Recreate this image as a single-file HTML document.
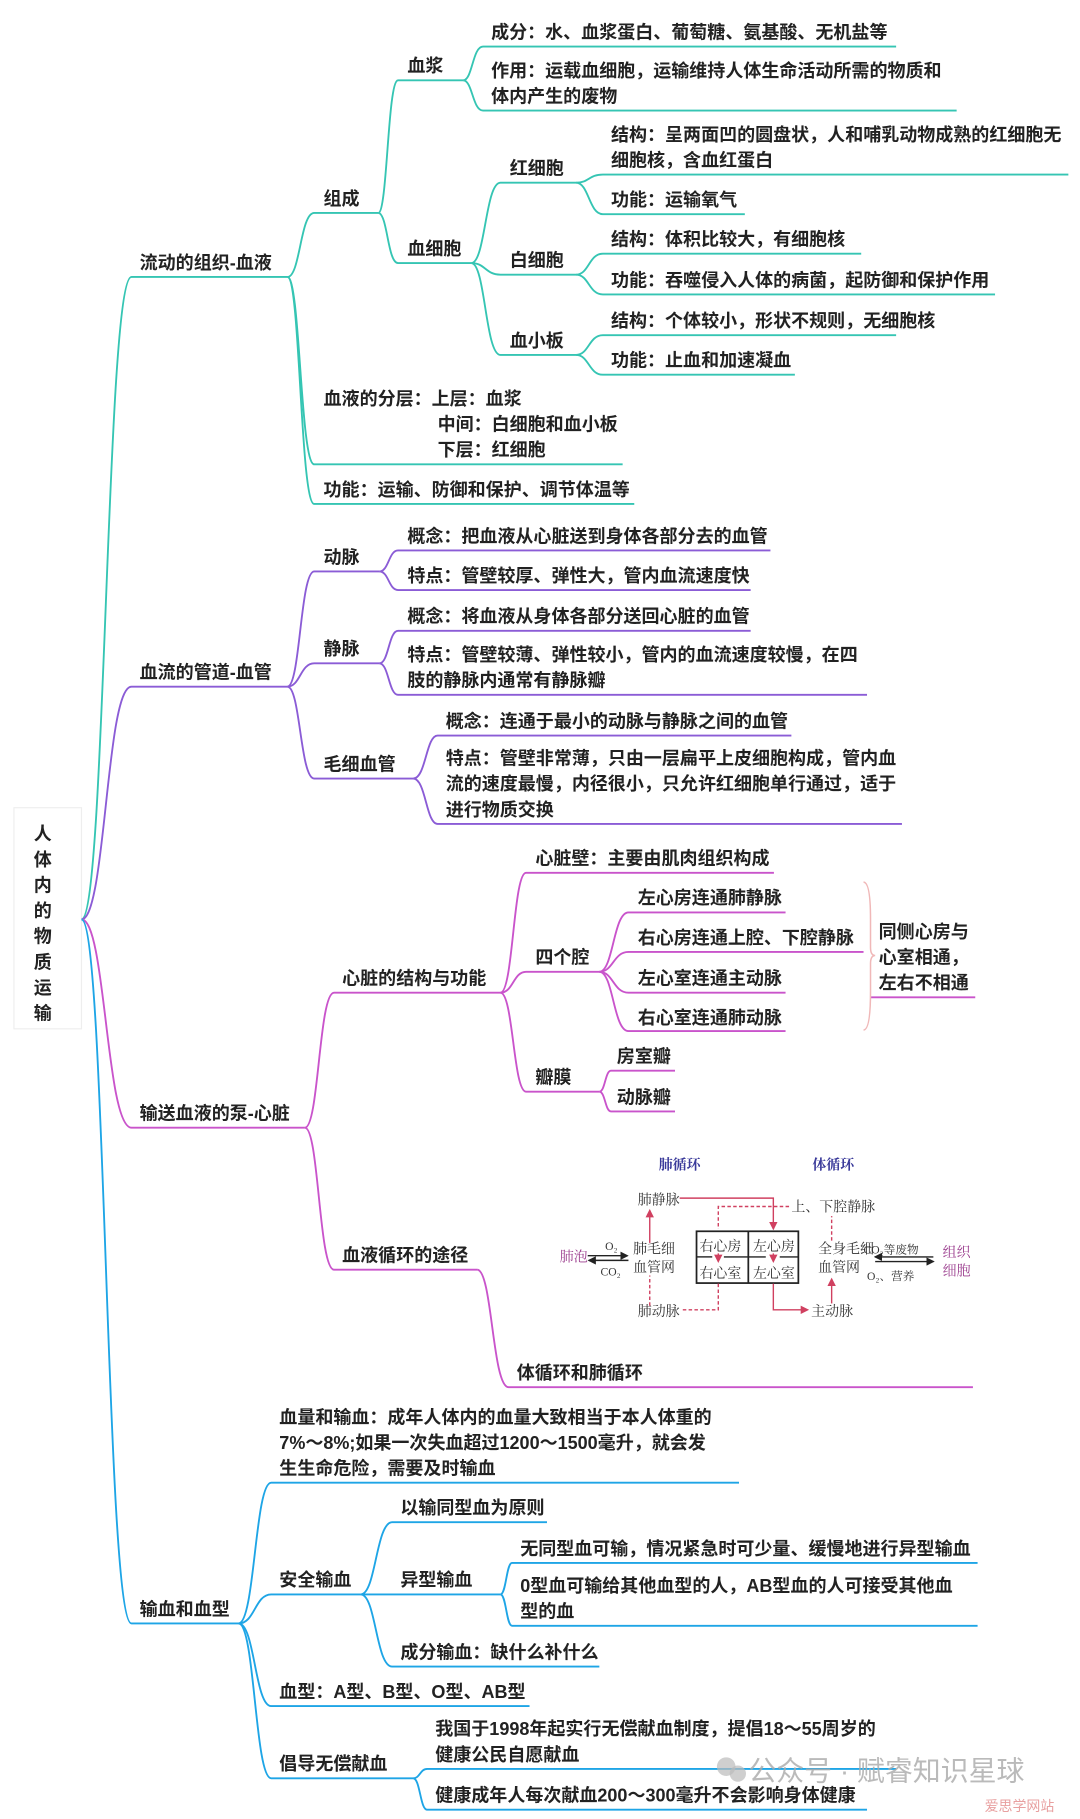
<!DOCTYPE html>
<html><head><meta charset="utf-8"><style>
html,body{margin:0;padding:0;background:#fff;}
svg{display:block;}
text{font-family:"Liberation Sans","Noto Sans CJK SC",sans-serif;font-weight:bold;font-size:15.5px;fill:#222;}
.d{font-family:"Liberation Serif","Noto Serif CJK SC",serif;font-weight:normal;font-size:12px;fill:#333;}
.t{fill:none;stroke:#35c5b3;stroke-width:1.6;}
.p{fill:none;stroke:#8b5cd6;stroke-width:1.6;}
.m{fill:none;stroke:#c954cb;stroke-width:1.6;}
.b{fill:none;stroke:#1ea5e6;stroke-width:1.6;}
</style></head><body>
<svg width="1080" height="1819" viewBox="0 0 928 1563" preserveAspectRatio="none" xmlns="http://www.w3.org/2000/svg">
<defs>
<marker id="ar" markerWidth="6" markerHeight="6" refX="5" refY="3" orient="auto"><path d="M0,0 L6,3 L0,6 z" fill="#d04060"/></marker>
<marker id="ak" markerWidth="6" markerHeight="6" refX="5" refY="3" orient="auto"><path d="M0,0 L6,3 L0,6 z" fill="#222"/></marker>
</defs>
<!-- root -->
<rect x="12" y="694" width="58" height="190" fill="#fff" stroke="#eee" stroke-width="1"/>
<g style="font-size:17px">
<text x="29" y="722">人</text><text x="29" y="744">体</text><text x="29" y="766">内</text><text x="29" y="788">的</text><text x="29" y="810">物</text><text x="29" y="832">质</text><text x="29" y="854">运</text><text x="29" y="876">输</text>
</g>

<!-- Branch 1 teal -->
<g class="t">
<path d="M70 790 C91 790 91 238 113 238 L247 238"/>
<path d="M247 238 C258 238 258 183 270 183 L325 183"/>
<path d="M325 183 C333 183 333 69 342 69 L398 69"/>
<path d="M398 69 C406 69 406 40 415 40 L770 40"/>
<path d="M398 69 C406 69 406 95 415 95 L822 95"/>
<path d="M325 183 C333 183 333 226 342 226 L405 226"/>
<path d="M405 226 C417 226 417 157 430 157 L495 157"/>
<path d="M495 157 C506 157 506 150 518 150 L918 150"/>
<path d="M495 157 C506 157 506 184 518 184 L640 184"/>
<path d="M405 226 C417 226 417 236 430 236 L495 236"/>
<path d="M495 236 C506 236 506 218 518 218 L740 218"/>
<path d="M495 236 C506 236 506 253 518 253 L855 253"/>
<path d="M405 226 C417 226 417 305 430 305 L495 305"/>
<path d="M495 305 C506 305 506 288 518 288 L770 288"/>
<path d="M495 305 C506 305 506 322 518 322 L683 322"/>
<path d="M247 238 C258 238 258 399 270 399 L535 399"/>
<path d="M247 238 C258 238 258 433 270 433 L545 433"/>
</g>
<text x="120" y="231">流动的组织-血液</text>
<text x="278" y="176">组成</text>
<text x="350" y="62">血浆</text>
<text x="422" y="33">成分：水、血浆蛋白、葡萄糖、氨基酸、无机盐等</text>
<text x="422" y="66">作用：运载血细胞，运输维持人体生命活动所需的物质和</text>
<text x="422" y="88">体内产生的废物</text>
<text x="350" y="219">血细胞</text>
<text x="438" y="150">红细胞</text>
<text x="525" y="121">结构：呈两面凹的圆盘状，人和哺乳动物成熟的红细胞无</text>
<text x="525" y="143">细胞核，含血红蛋白</text>
<text x="525" y="177">功能：运输氧气</text>
<text x="438" y="229">白细胞</text>
<text x="525" y="211">结构：体积比较大，有细胞核</text>
<text x="525" y="246">功能：吞噬侵入人体的病菌，起防御和保护作用</text>
<text x="438" y="298">血小板</text>
<text x="525" y="281">结构：个体较小，形状不规则，无细胞核</text>
<text x="525" y="315">功能：止血和加速凝血</text>
<text x="278" y="348">血液的分层：上层：血浆</text>
<text x="376" y="370">中间：白细胞和血小板</text>
<text x="376" y="392">下层：红细胞</text>
<text x="278" y="426">功能：运输、防御和保护、调节体温等</text>

<!-- Branch 2 purple -->
<g class="p">
<path d="M70 790 C91 790 91 590 113 590 L247 590"/>
<path d="M247 590 C258 590 258 491 270 491 L326 491"/>
<path d="M326 491 C334 491 334 473 342 473 L662 473"/>
<path d="M326 491 C334 491 334 507 342 507 L645 507"/>
<path d="M247 590 C258 590 258 570 270 570 L326 570"/>
<path d="M326 570 C334 570 334 542 342 542 L645 542"/>
<path d="M326 570 C334 570 334 597 342 597 L745 597"/>
<path d="M247 590 C258 590 258 669 270 669 L355 669"/>
<path d="M355 669 C366 669 366 632 376 632 L680 632"/>
<path d="M355 669 C366 669 366 708 376 708 L775 708"/>
</g>
<text x="120" y="583">血流的管道-血管</text>
<text x="278" y="484">动脉</text>
<text x="350" y="466">概念：把血液从心脏送到身体各部分去的血管</text>
<text x="350" y="500">特点：管壁较厚、弹性大，管内血流速度快</text>
<text x="278" y="563">静脉</text>
<text x="350" y="535">概念：将血液从身体各部分送回心脏的血管</text>
<text x="350" y="568">特点：管壁较薄、弹性较小，管内的血流速度较慢，在四</text>
<text x="350" y="590">肢的静脉内通常有静脉瓣</text>
<text x="278" y="662">毛细血管</text>
<text x="383" y="625">概念：连通于最小的动脉与静脉之间的血管</text>
<text x="383" y="657">特点：管壁非常薄，只由一层扁平上皮细胞构成，管内血</text>
<text x="383" y="679">流的速度最慢，内径很小，只允许红细胞单行通过，适于</text>
<text x="383" y="701">进行物质交换</text>

<!-- Branch 3 magenta -->
<g class="m">
<path d="M70 790 C91 790 91 969 113 969 L262 969"/>
<path d="M262 969 C274 969 274 853 287 853 L430 853"/>
<path d="M430 853 C441 853 441 750 452 750 L665 750"/>
<path d="M430 853 C441 853 441 835 452 835 L515 835"/>
<path d="M515 835 C527 835 527 784 540 784 L675 784"/>
<path d="M515 835 C527 835 527 818 540 818 L742 818"/>
<path d="M515 835 C527 835 527 853 540 853 L675 853"/>
<path d="M515 835 C527 835 527 886 540 886 L675 886"/>
<path d="M430 853 C441 853 441 938 452 938 L515 938"/>
<path d="M515 938 C520 938 520 920 525 920 L580 920"/>
<path d="M515 938 C520 938 520 955 525 955 L580 955"/>
<path d="M262 969 C274 969 274 1091 287 1091 L410 1091"/>
<path d="M410 1091 C423 1091 423 1192 437 1192 L836 1192"/>
<path d="M748 857 L838 857"/>
</g>
<path d="M742 758 Q748 758 748 790 L748 814 Q748 821 752 821 Q748 821 748 828 L748 852 Q748 885 742 885" fill="none" stroke="#f0b8b8" stroke-width="1.3"/>
<text x="120" y="962">输送血液的泵-心脏</text>
<text x="294" y="846">心脏的结构与功能</text>
<text x="460" y="743">心脏壁：主要由肌肉组织构成</text>
<text x="460" y="828">四个腔</text>
<text x="548" y="777">左心房连通肺静脉</text>
<text x="548" y="811">右心房连通上腔、下腔静脉</text>
<text x="548" y="846">左心室连通主动脉</text>
<text x="548" y="880">右心室连通肺动脉</text>
<text x="755" y="806">同侧心房与</text>
<text x="755" y="828">心室相通，</text>
<text x="755" y="850">左右不相通</text>
<text x="460" y="931">瓣膜</text>
<text x="530" y="913">房室瓣</text>
<text x="530" y="948">动脉瓣</text>
<text x="294" y="1084">血液循环的途径</text>
<text x="444" y="1185">体循环和肺循环</text>

<!-- circulation diagram -->
<g>
<text class="d" x="566" y="1005" style="fill:#3a3a9a;font-weight:bold">肺循环</text>
<text class="d" x="698" y="1005" style="fill:#3a3a9a;font-weight:bold">体循环</text>
<text class="d" x="548" y="1035">肺静脉</text>
<text class="d" x="680" y="1041">上、下腔静脉</text>
<text class="d" x="544" y="1077">肺毛细</text>
<text class="d" x="544" y="1093">血管网</text>
<text class="d" x="481" y="1084" style="fill:#9b3d8e">肺泡</text>
<text class="d" x="520" y="1074" style="font-size:10px">O₂</text>
<text class="d" x="516" y="1096" style="font-size:10px">CO₂</text>
<line x1="505" y1="1079" x2="539" y2="1079" stroke="#222" stroke-width="1.2" marker-end="url(#ak)"/>
<line x1="540" y1="1083" x2="506" y2="1083" stroke="#222" stroke-width="1.2" marker-end="url(#ak)"/>
<rect x="598.5" y="1058" width="87.5" height="44.5" fill="none" stroke="#222" stroke-width="1.5"/>
<line x1="643" y1="1058" x2="643" y2="1102.5" stroke="#222" stroke-width="1.5"/>
<line x1="598.5" y1="1080" x2="612" y2="1080" stroke="#222" stroke-width="1.2"/>
<line x1="622" y1="1080" x2="658" y2="1080" stroke="#222" stroke-width="1.2"/>
<line x1="670" y1="1080" x2="686" y2="1080" stroke="#222" stroke-width="1.2"/>
<text class="d" x="601" y="1075">右心房</text>
<text class="d" x="647" y="1075">左心房</text>
<text class="d" x="601" y="1098">右心室</text>
<text class="d" x="647" y="1098">左心室</text>
<text class="d" x="703" y="1077">全身毛细</text>
<text class="d" x="703" y="1093">血管网</text>
<text class="d" x="742" y="1077" style="font-size:10px">CO₂等废物</text>
<text class="d" x="745" y="1100" style="font-size:10px">O₂、营养</text>
<line x1="802" y1="1080" x2="752" y2="1080" stroke="#222" stroke-width="1.2" marker-end="url(#ak)"/>
<line x1="752" y1="1084" x2="802" y2="1084" stroke="#222" stroke-width="1.2" marker-end="url(#ak)"/>
<text class="d" x="810" y="1080" style="fill:#9b3d8e">组织</text>
<text class="d" x="810" y="1096" style="fill:#9b3d8e">细胞</text>
<text class="d" x="548" y="1131">肺动脉</text>
<text class="d" x="697" y="1131">主动脉</text>
<g fill="none" stroke="#d04060" stroke-width="1.2">
<path d="M584 1029.5 L664.5 1029.5 L664.5 1056" marker-end="url(#ar)"/>
<path d="M664.5 1077 L664.5 1084" marker-end="url(#ar)"/>
<path d="M664.5 1103 L664.5 1125.5 L694 1125.5" marker-end="url(#ar)"/>
<path d="M714.6 1120 L714.6 1099" marker-end="url(#ar)"/>
<path d="M558.3 1068 L558.3 1040" marker-end="url(#ar)"/>
<path d="M617.2 1077 L617.2 1084" marker-end="url(#ar)"/>
</g>
<g fill="none" stroke="#d04060" stroke-width="1.2" stroke-dasharray="3,2">
<path d="M678 1036.7 L617.2 1036.7 L617.2 1056"/>
<path d="M617.2 1103 L617.2 1125.5 L586 1125.5"/>
<path d="M558.3 1122 L558.3 1096"/>
<path d="M714.6 1066 L714.6 1045"/>
</g>
</g>

<!-- Branch 4 blue -->
<g class="b">
<path d="M70 790 C91 790 91 1395 113 1395 L205 1395"/>
<path d="M205 1395 C219 1395 219 1274 233 1274 L635 1274"/>
<path d="M205 1395 C219 1395 219 1370 233 1370 L310 1370"/>
<path d="M310 1370 C323 1370 323 1308 337 1308 L470 1308"/>
<path d="M310 1370 C323 1370 323 1370 337 1370 L430 1370"/>
<path d="M430 1370 C435 1370 435 1343 440 1343 L840 1343"/>
<path d="M430 1370 C435 1370 435 1397 440 1397 L840 1397"/>
<path d="M310 1370 C323 1370 323 1432 337 1432 L515 1432"/>
<path d="M205 1395 C219 1395 219 1466 233 1466 L455 1466"/>
<path d="M205 1395 C219 1395 219 1528 233 1528 L355 1528"/>
<path d="M355 1528 C361 1528 361 1520 367 1520 L770 1520"/>
<path d="M355 1528 C361 1528 361 1555 367 1555 L745 1555"/>
</g>
<text x="120" y="1388">输血和血型</text>
<text x="240" y="1223">血量和输血：成年人体内的血量大致相当于本人体重的</text>
<text x="240" y="1245">7%～8%;如果一次失血超过1200～1500毫升，就会发</text>
<text x="240" y="1267">生生命危险，需要及时输血</text>
<text x="240" y="1363">安全输血</text>
<text x="344" y="1301">以输同型血为原则</text>
<text x="344" y="1363">异型输血</text>
<text x="447" y="1336">无同型血可输，情况紧急时可少量、缓慢地进行异型输血</text>
<text x="447" y="1368">0型血可输给其他血型的人，AB型血的人可接受其他血</text>
<text x="447" y="1390">型的血</text>
<text x="344" y="1425">成分输血：缺什么补什么</text>
<text x="240" y="1459">血型：A型、B型、O型、AB型</text>
<text x="240" y="1521">倡导无偿献血</text>
<text x="374" y="1491">我国于1998年起实行无偿献血制度，提倡18～55周岁的</text>
<text x="374" y="1513">健康公民自愿献血</text>
<text x="374" y="1548">健康成年人每次献血200～300毫升不会影响身体健康</text>

<!-- watermark -->
<circle cx="624" cy="1518" r="8" fill="#bbb" opacity="0.7"/>
<circle cx="634" cy="1524" r="7" fill="#bbb" opacity="0.7"/>
<text x="643" y="1530" style="font-weight:normal;font-size:24px;fill:#aaa;opacity:0.8">公众号 · 赋睿知识星球</text>
<text x="846" y="1556" style="font-weight:normal;font-size:12px;fill:#e8a0a0">爱思学网站</text>
</svg>
</body></html>
